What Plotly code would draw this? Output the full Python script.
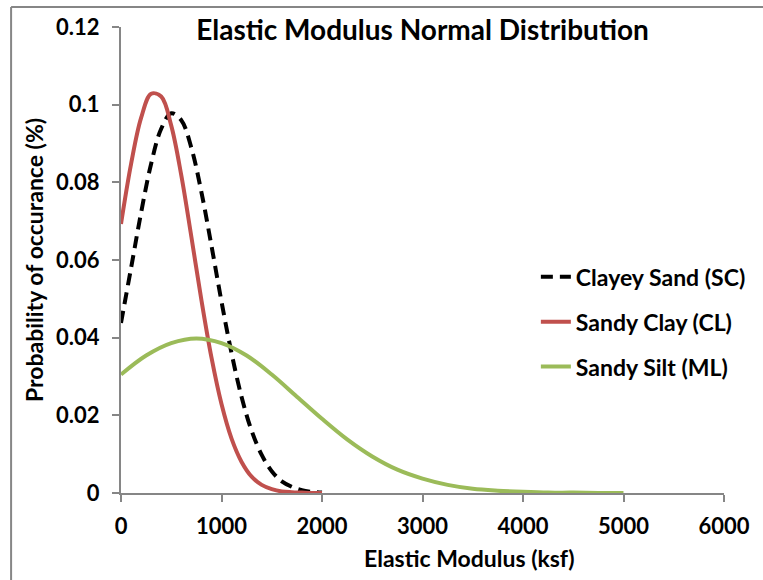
import plotly.graph_objects as go

# values
x_sc = [0, 100, 200, 300, 400, 500, 600, 700, 800, 900, 1000,
        1100, 1200, 1300, 1400, 1500, 1600, 1700, 1800, 1900, 2000]
y_sc = [0.0438, 0.0579, 0.0722, 0.0848, 0.0938, 0.0978, 0.0960, 0.0889, 0.0775, 0.0637, 0.0493,
        0.0360, 0.0247, 0.0160, 0.0098, 0.0056, 0.0030, 0.0016, 0.0007, 0.0003, 0.0001]

x_cl = [0, 100, 200, 300, 400, 500, 600, 700, 800, 900, 1000,
        1100, 1200, 1300, 1400, 1500, 1600, 1700, 1800, 1900, 2000]
y_cl = [0.0693, 0.0847, 0.0966, 0.1028, 0.1021, 0.0946, 0.0818, 0.0660, 0.0497, 0.0349, 0.0229,
        0.0140, 0.0080, 0.0042, 0.0021, 0.0010, 0.0004, 0.0002, 0.0001, 0.0000, 0.0000]

x_ml = [0, 250, 500, 750, 1000, 1250, 1500, 1750, 2000, 2250, 2500,
        2750, 3000, 3250, 3500, 3750, 4000, 4250, 4500, 4750, 5000]
y_ml = [0.0305, 0.0354, 0.0386, 0.0398, 0.0386, 0.0354, 0.0305, 0.0248, 0.0191, 0.0138, 0.0094,
        0.0060, 0.0037, 0.0021, 0.0011, 0.0006, 0.0003, 0.0001, 0.0001, 0.0000, 0.0000]

names = ["Clayey Sand (SC)", "Sandy Clay (CL)", "Sandy Silt (ML)"]

FONT = "Lato"
AXIS_GRAY = "#868686"

fig = go.Figure()
fig.add_trace(go.Scatter(x=x_sc, y=y_sc, mode="lines", name=names[0], legendgroup="a",
                         line=dict(color="#000000", width=4, dash="12px,7px", shape="spline")))
fig.add_trace(go.Scatter(x=x_cl, y=y_cl, mode="lines", name=names[1], legendgroup="b",
                         line=dict(color="#C0504D", width=4, shape="spline")))
fig.add_trace(go.Scatter(x=x_ml, y=y_ml, mode="lines", name=names[2], legendgroup="c",
                         line=dict(color="#9BBB59", width=4, shape="spline")))

# outer chart border: only the left and top edges are inside the picture
border_left = (10 - 121) / 609
border_top = 1 + (27 - 7) / 465.5
fig.update_layout(
    width=763, height=580, autosize=False,
    margin=dict(l=121, r=33, t=27, b=87),
    paper_bgcolor="white", plot_bgcolor="white",
    font=dict(family=FONT, size=22, color="#000000"),
    title=dict(text="<b>Elastic Modulus Normal Distribution</b>",
               font=dict(size=28), x=0.5, xref="paper", xanchor="center",
               y=1 - 30 / 580, yanchor="middle"),
    legend=dict(x=0.688, y=0.51, xanchor="left", yanchor="top",
                font=dict(size=23), tracegroupgap=12, traceorder="grouped",
                bgcolor="rgba(0,0,0,0)"),
    shapes=[
        dict(type="line", xref="paper", yref="paper", x0=border_left, x1=border_left,
             y0=-0.3, y1=border_top, line=dict(color=AXIS_GRAY, width=2), layer="below"),
        dict(type="line", xref="paper", yref="paper", x0=border_left, x1=1.3,
             y0=border_top, y1=border_top, line=dict(color=AXIS_GRAY, width=2), layer="below"),
    ],
    annotations=[dict(text="<b>Elastic Modulus (ksf)</b>", xref="paper", yref="paper",
                      x=(473 - 121) / 609, y=(492.5 - 557) / 465.5,
                      xanchor="center", yanchor="middle", showarrow=False,
                      font=dict(size=23))],
)

fig.update_xaxes(range=[0, 6000], dtick=1000, showgrid=False, zeroline=False,
                 showline=True, linecolor=AXIS_GRAY, linewidth=2,
                 ticks="outside", ticklen=7, tickcolor=AXIS_GRAY, tickwidth=2,
                 tickfont=dict(size=22), ticklabelstandoff=6,
                 tickprefix="<b>", ticksuffix="</b>")
fig.update_yaxes(range=[0, 0.12], dtick=0.02, showgrid=False, zeroline=False,
                 showline=True, linecolor=AXIS_GRAY, linewidth=2,
                 ticks="outside", ticklen=7, tickcolor=AXIS_GRAY, tickwidth=2,
                 tickfont=dict(size=22), ticklabelstandoff=8,
                 title=dict(text="<b>Probability of occurance (%)</b>", font=dict(size=23), standoff=6),
                 tickprefix="<b>", ticksuffix="</b>")

for tr in fig.data:
    tr.name = "<b>" + tr.name + "</b>"

page_fix = (
    "document.documentElement.style.overflow='hidden';"
    "document.body.style.margin='0';"
    "document.body.style.overflow='hidden';"
    "var gd=document.getElementById('{plot_id}');"
    "gd.style.width='763px';gd.style.height='580px';"
    "Plotly.relayout(gd,{autosize:false,width:763,height:580});"
)
fig.write_html("out.html",
               config=dict(displayModeBar=False, responsive=False),
               post_script=page_fix)
